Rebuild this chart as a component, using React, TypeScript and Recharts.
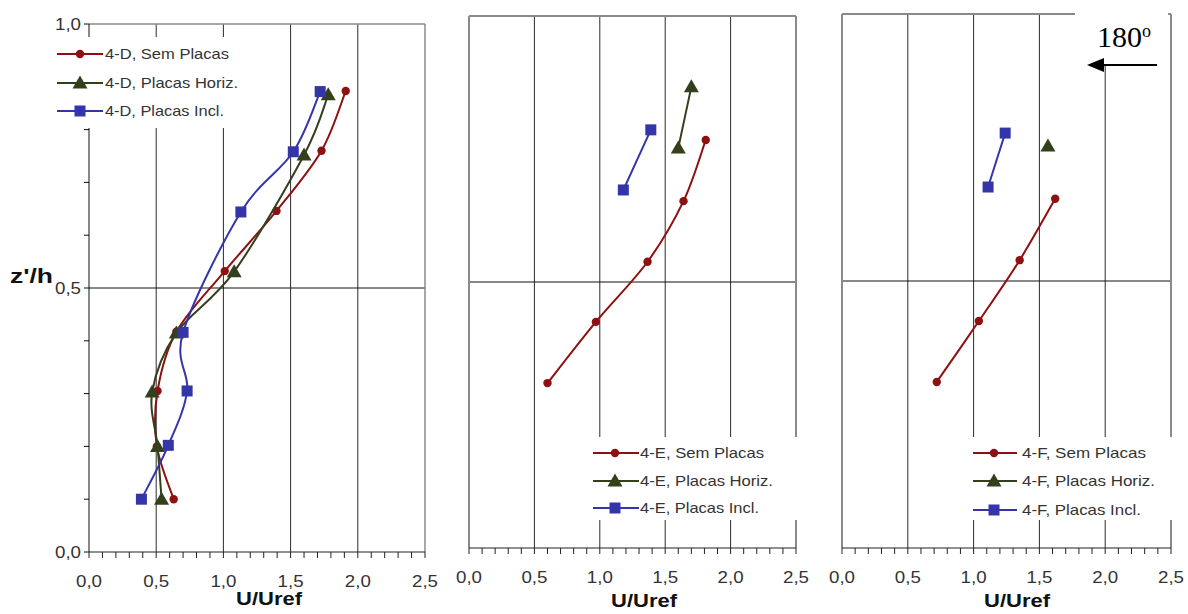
import React from 'react';
import { ScatterChart, Scatter, XAxis, YAxis, ReferenceLine, Legend } from 'recharts';

// ticks every 0.1, labels only on the 0.5 steps
const U_TICKS = [0, 0.1, 0.2, 0.3, 0.4, 0.5, 0.6, 0.7, 0.8, 0.9, 1.0, 1.1, 1.2, 1.3, 1.4, 1.5, 1.6, 1.7, 1.8, 1.9, 2.0, 2.1, 2.2, 2.3, 2.4, 2.5];
const Z_TICKS = [0, 0.1, 0.2, 0.3, 0.4, 0.5, 0.6, 0.7, 0.8, 0.9, 1.0];
const U_GRID = [0.5, 1.0, 1.5, 2.0];

// 4-D
const D_SEM_U = [0.63, 0.505, 0.51, 0.65, 1.01, 1.395, 1.73, 1.91];
const D_SEM_Z = [0.1, 0.2, 0.305, 0.417, 0.532, 0.646, 0.76, 0.873];
const D_HOR_U = [0.54, 0.51, 0.47, 0.65, 1.08, 1.6, 1.78];
const D_HOR_Z = [0.1, 0.2, 0.303, 0.415, 0.531, 0.752, 0.866];
const D_INC_U = [0.39, 0.59, 0.73, 0.7, 1.13, 1.52, 1.72];
const D_INC_Z = [0.1, 0.202, 0.305, 0.416, 0.644, 0.758, 0.872];

// 4-E
const E_SEM_U = [0.6, 0.97, 1.365, 1.64, 1.81];
const E_SEM_Z = [0.31, 0.425, 0.538, 0.652, 0.767];
const E_HOR_U = [1.6, 1.7];
const E_HOR_Z = [0.752, 0.867];
const E_INC_U = [1.18, 1.39];
const E_INC_Z = [0.673, 0.786];

// 4-F
const F_SEM_U = [0.72, 1.04, 1.35, 1.62];
const F_SEM_Z = [0.311, 0.425, 0.539, 0.654];
const F_HOR_U = [1.565];
const F_HOR_Z = [0.753];
const F_INC_U = [1.11, 1.24];
const F_INC_Z = [0.676, 0.777];

const RED = '#8e1010';
const OLIVE = '#343f1c';
const BLUE = '#3535aa';
const FONT = "'Liberation Sans', Arial, sans-serif";

const zip = (u: number[], z: number[]) => u.map((v, i) => ({ u: v, z: z[i] }));

// smoothed line like the spreadsheet one (cardinal spline, 1/6 tangents)
const excelSmooth = (context: any) => {
  let pts: number[][] = [];
  return {
    areaStart() {},
    areaEnd() {},
    lineStart() {
      pts = [];
    },
    lineEnd() {
      const n = pts.length;
      if (!n) return;
      context.moveTo(pts[0][0], pts[0][1]);
      for (let i = 0; i < n - 1; i++) {
        const p0 = pts[Math.max(i - 1, 0)];
        const p1 = pts[i];
        const p2 = pts[i + 1];
        const p3 = pts[Math.min(i + 2, n - 1)];
        context.bezierCurveTo(
          p1[0] + (p2[0] - p0[0]) / 6, p1[1] + (p2[1] - p0[1]) / 6,
          p2[0] - (p3[0] - p1[0]) / 6, p2[1] - (p3[1] - p1[1]) / 6,
          p2[0], p2[1]
        );
      }
    },
    point(x: number, y: number) {
      pts.push([+x, +y]);
    },
  };
};

type Kind = 'circle' | 'triangle' | 'square';

const Marker = ({ kind, color, cx, cy }: { kind: Kind; color: string; cx: number; cy: number }) => {
  if (cx == null || cy == null) return null;
  if (kind === 'circle') return <circle cx={cx} cy={cy} r={4.2} fill={color} />;
  if (kind === 'square') return <rect x={cx - 5.5} y={cy - 5.5} width={11} height={11} fill={color} />;
  return <polygon points={`${cx},${cy - 7.5} ${cx + 7.5},${cy + 5.5} ${cx - 7.5},${cy + 5.5}`} fill={color} />;
};

const fmt = (v: number) => v.toFixed(1).replace('.', ',');
const isMajor = (v: number) => Math.abs(v * 2 - Math.round(v * 2)) < 1e-6;

const XTick = (props: any) => {
  const { x, y, payload } = props;
  if (!isMajor(payload.value)) return null;
  return (
    <text x={x} y={y + 27} textAnchor="middle" fontFamily={FONT} fontSize={16} fill="#333"
      textLength={26} lengthAdjust="spacingAndGlyphs">
      {fmt(payload.value)}
    </text>
  );
};

const YTick = (props: any) => {
  const { x, y, payload } = props;
  if (!isMajor(payload.value)) return null;
  return (
    <text x={x - 1} y={y + 6} textAnchor="end" fontFamily={FONT} fontSize={16} fill="#333"
      textLength={26} lengthAdjust="spacingAndGlyphs">
      {fmt(payload.value)}
    </text>
  );
};

interface SeriesDef {
  label: string;
  kind: Kind;
  color: string;
  data: { u: number; z: number }[];
  textW: number;
}

interface LegendDef {
  left: number;
  top: number;
  w: number;
  h: number;
  x0: number;
  x1: number;
  mx: number;
  tx: number;
  rows: number[];
}

const LegendBox = ({ series, lg }: { series: SeriesDef[]; lg: LegendDef }) => (
  <svg width={lg.w} height={lg.h} style={{ display: 'block', background: '#fff' }}>
    {series.map((s, i) => (
      <g key={s.label}>
        <line x1={lg.x0} x2={lg.x1} y1={lg.rows[i]} y2={lg.rows[i]} stroke={s.color} strokeWidth={2} />
        <Marker kind={s.kind} color={s.color} cx={lg.mx} cy={lg.rows[i]} />
        <text x={lg.tx} y={lg.rows[i] + 5} fontFamily={FONT} fontSize={15} fill="#333"
          textLength={s.textW} lengthAdjust="spacingAndGlyphs">
          {s.label}
        </text>
      </g>
    ))}
  </svg>
);

const makeSeries = (tag: string, sem: any[], hor: any[], inc: any[]): SeriesDef[] => [
  { label: `${tag}, Sem Placas`, kind: 'circle', color: RED, data: sem, textW: 124 },
  { label: `${tag}, Placas Horiz.`, kind: 'triangle', color: OLIVE, data: hor, textW: 133 },
  { label: `${tag}, Placas Incl.`, kind: 'square', color: BLUE, data: inc, textW: 119 },
];

interface PanelProps {
  left: number;
  width: number;
  margin: { top: number; right: number; bottom: number; left: number };
  xAxisHeight: number;
  withYAxis: boolean;
  series: SeriesDef[];
  lg: LegendDef;
  titleX: number;
  titleY: number;
}

const Panel = ({ left, width, margin, xAxisHeight, withYAxis, series, lg, titleX, titleY }: PanelProps) => {
  const border = '#8a8a8a';
  const borderW = withYAxis ? 1.5 : 2;
  return (
    <div style={{ position: 'absolute', left, top: 0 }}>
      <ScatterChart width={width} height={614} margin={margin}>
        <XAxis
          type="number"
          dataKey="u"
          domain={[0, 2.5]}
          ticks={U_TICKS}
          interval={0}
          height={xAxisHeight}
          tickSize={6}
          tick={<XTick />}
          axisLine={{ stroke: '#222' }}
          tickLine={{ stroke: '#222' }}
          label={() => (
            <text x={titleX} y={titleY} textAnchor="middle" fontFamily={FONT} fontSize={18}
              fontWeight="bold" fill="#111" textLength={66} lengthAdjust="spacingAndGlyphs">
              U/Uref
            </text>
          )}
        />
        {withYAxis ? (
          <YAxis
            type="number"
            dataKey="z"
            domain={[0, 1]}
            ticks={Z_TICKS}
            interval={0}
            width={89}
            tickSize={5}
            tick={<YTick />}
            axisLine={{ stroke: '#111' }}
            tickLine={{ stroke: '#111' }}
            label={() => (
              <text x={10} y={283} fontFamily={FONT} fontSize={20} fontWeight="bold" fill="#111"
                textLength={43} lengthAdjust="spacingAndGlyphs">
                z'/h
              </text>
            )}
          />
        ) : (
          <YAxis type="number" dataKey="z" domain={[0, 1]} hide />
        )}
        {U_GRID.map((g) => (
          <ReferenceLine key={g} x={g} stroke="#2a2a2a" strokeWidth={1} />
        ))}
        <ReferenceLine y={0.5} stroke="#111" strokeWidth={1} />
        <ReferenceLine y={1} stroke={border} strokeWidth={borderW} />
        <ReferenceLine x={2.5} stroke={border} strokeWidth={borderW} />
        {!withYAxis && <ReferenceLine x={0} stroke={border} strokeWidth={borderW} />}
        {series.map((s) => (
          <Scatter
            key={s.label}
            name={s.label}
            data={s.data}
            fill={s.color}
            line={{ stroke: s.color, strokeWidth: 2 }}
            lineJointType={excelSmooth as any}
            shape={(p: any) => <Marker kind={s.kind} color={s.color} cx={p.cx} cy={p.cy} />}
            isAnimationActive={false}
          />
        ))}
        <Legend
          layout="vertical"
          align="center"
          verticalAlign="middle"
          wrapperStyle={{ left: lg.left, top: lg.top, width: lg.w, height: lg.h, background: '#fff' }}
          content={() => <LegendBox series={series} lg={lg} />}
        />
      </ScatterChart>
    </div>
  );
};

const seriesD = makeSeries('4-D', zip(D_SEM_U, D_SEM_Z), zip(D_HOR_U, D_HOR_Z), zip(D_INC_U, D_INC_Z));
const seriesE = makeSeries('4-E', zip(E_SEM_U, E_SEM_Z), zip(E_HOR_U, E_HOR_Z), zip(E_INC_U, E_INC_Z));
const seriesF = makeSeries('4-F', zip(F_SEM_U, F_SEM_Z), zip(F_HOR_U, F_HOR_Z), zip(F_INC_U, F_INC_Z));

export default function App() {
  return (
    <div style={{ position: 'absolute', left: 0, top: 0, width: 1188, height: 614, background: '#fff', overflow: 'hidden' }}>
      <Panel
        left={0}
        width={450}
        margin={{ top: 24, right: 25, bottom: 0, left: 0 }}
        xAxisHeight={62}
        withYAxis
        series={seriesD}
        lg={{ left: 45, top: 37, w: 200, h: 91, x0: 12, x1: 58, mx: 35, tx: 60, rows: [17, 46, 74] }}
        titleX={269}
        titleY={605}
      />
      <Panel
        left={445}
        width={370}
        margin={{ top: 16, right: 19, bottom: 0, left: 24 }}
        xAxisHeight={66}
        withYAxis={false}
        series={seriesE}
        lg={{ left: 145, top: 437, w: 212, h: 83, x0: 3, x1: 49, mx: 25, tx: 50, rows: [16, 44, 71] }}
        titleX={199}
        titleY={607}
      />
      <Panel
        left={820}
        width={368}
        margin={{ top: 14, right: 17, bottom: 0, left: 22 }}
        xAxisHeight={66}
        withYAxis={false}
        series={seriesF}
        lg={{ left: 146, top: 437, w: 212, h: 83, x0: 7, x1: 51, mx: 28, tx: 56, rows: [16, 44, 73] }}
        titleX={197}
        titleY={607}
      />
      <svg width={1188} height={614} style={{ position: 'absolute', left: 0, top: 0, pointerEvents: 'none' }}>
        <rect x={1075} y={6} width={93} height={60} fill="#fff" />
        <text x={1097} y={47} fontFamily="'Liberation Serif', 'Times New Roman', serif" fontSize={30} fill="#000">
          180<tspan fontSize={18} dy={-10}>o</tspan>
        </text>
        <line x1={1157} x2={1100} y1={65} y2={65} stroke="#000" strokeWidth={2} />
        <polygon points="1087,65 1104,58 1104,72" fill="#000" />
      </svg>
    </div>
  );
}
